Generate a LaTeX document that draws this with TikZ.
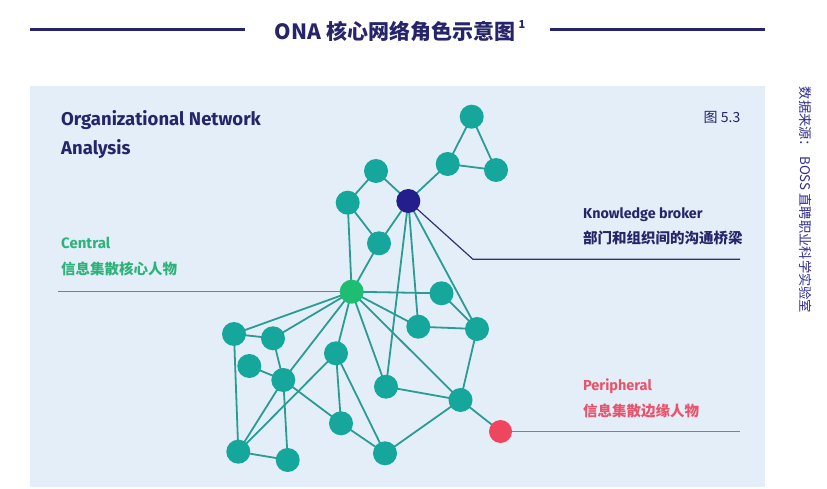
\documentclass[tikz,border=0pt]{standalone}
\usepackage{fontspec}
\setmainfont{Fira Sans}
\newfontfamily\cjk{Noto Sans CJK SC}
\definecolor{navy}{HTML}{26246A}
\definecolor{panel}{HTML}{E3EEF8}
\definecolor{teal}{HTML}{16A79C}
\definecolor{edgec}{HTML}{2A9C94}
\definecolor{cgreen}{HTML}{1EBE72}
\definecolor{ctext}{HTML}{2DB37A}
\definecolor{cline}{HTML}{22B078}
\definecolor{broker}{HTML}{241E8C}
\definecolor{pred}{HTML}{F0455F}
\definecolor{ptext}{HTML}{E8546B}
\definecolor{srcblue}{HTML}{2E2C8E}
\pgfdeclarelayer{bg}
\pgfsetlayers{bg,main}
\tikzset{
  nd/.style={circle,fill=teal,minimum size=24pt,inner sep=0pt},
  ed/.style={draw=edgec,line width=1.8pt},
  lbl/.style={anchor=base west,inner sep=0pt},
}
\begin{document}
\begin{tikzpicture}[x=1pt,y=-1pt]
\useasboundingbox (0,0) rectangle (827,489);
% title
\coordinate (tl1) at (30,29.5);
\coordinate (tl2) at (245,29.5);
\coordinate (tr1) at (550,29.5);
\coordinate (tr2) at (765,29.5);
\draw[navy,line width=2.6pt] (tl1) -- (tl2);
\draw[navy,line width=2.6pt] (tr1) -- (tr2);
\node[text=navy,inner sep=0pt] (title) at (400,31) {\cjk\bfseries\fontsize{21}{25}\selectfont ONA 核心网络角色示意图\,\raisebox{0.9ex}{\fontsize{11}{12}\selectfont 1}};
% heading
\node[lbl,text=navy] (h1) at (61,126) {\bfseries\fontsize{18.5}{22}\selectfont Organizational Network};
\node[lbl,text=navy] (h2) at (61,154.3) {\bfseries\fontsize{18.5}{22}\selectfont Analysis};
\node[text=navy,inner sep=0pt] (fig) at (722,117) {\cjk\fontsize{14}{16}\selectfont 图 5.3};
% source
\node[text=srcblue,inner sep=0pt,rotate=-90] (src) at (806,200) {\cjk\fontsize{13.3}{15}\selectfont 数据来源：\ BOSS 直聘职业科学实验室};
% nodes
\node[nd] (tt) at (471.7,116.7) {};
\node[nd] (tl) at (447.7,164) {};
\node[nd] (tr) at (496,170) {};
\node[nd] (a) at (376,171) {};
\node[nd] (b) at (347.7,202.7) {};
\node[nd,fill=broker] (br) at (408.3,201) {};
\node[nd] (c) at (379,243.3) {};
\node[nd,fill=cgreen] (cen) at (351.7,291.7) {};
\node[nd] (d) at (441.5,293.3) {};
\node[nd] (e) at (418.3,326.7) {};
\node[nd] (f) at (477,329) {};
\node[nd] (g) at (234,334) {};
\node[nd] (h) at (273,338.3) {};
\node[nd] (i) at (249.3,366) {};
\node[nd] (j) at (283.3,380) {};
\node[nd] (k) at (336,353.3) {};
\node[nd] (l) at (386,386.7) {};
\node[nd] (m) at (460.5,400) {};
\node[nd] (n) at (341,423.3) {};
\node[nd] (o) at (385,453.3) {};
\node[nd] (p) at (238.3,451.7) {};
\node[nd] (q) at (287.7,460) {};
\node[nd,fill=pred,minimum size=23pt] (per) at (500.5,431.5) {};
% leader coordinates
\coordinate (cl) at (58,291.7);
\coordinate (bk) at (473,259.3);
\coordinate (be) at (740,259.3);
\coordinate (pe) at (740,431.5);
\begin{pgfonlayer}{bg}
\fill[white] (0,0) rectangle (827,489);
\fill[panel] (30,86) rectangle (765,487);
\draw[cline,line width=1.3pt] (cl) -- (cen.center);
\draw[navy!85!gray,line width=1.2pt] (br.center) -- (bk) -- (be);
\draw[ptext,line width=1.2pt] (per.center) -- (pe);
\foreach \u/\v in {tt/tl,tt/tr,tl/tr,tl/br,a/br,a/b,b/c,c/br,b/cen,c/cen,
  br/l,br/e,br/f,
  cen/d,cen/g,cen/h,cen/j,cen/k,cen/l,cen/e,cen/m,
  d/f,e/f,f/m,l/m,m/per,m/o,
  g/h,g/p,h/j,j/q,i/j,j/n,j/p,k/p,k/n,k/o,n/o,p/q}
  \draw[ed] (\u.center) -- (\v.center);
\end{pgfonlayer}
% labels
\node[lbl,text=ctext] (ct1) at (61,248.3) {\bfseries\fontsize{15}{17}\selectfont Central};
\node[lbl,text=ctext] (ct2) at (61,274) {\cjk\bfseries\fontsize{14.5}{16}\selectfont 信息集散核心人物};
\node[lbl,text=navy] (kb1) at (583,218.3) {\bfseries\fontsize{14.3}{16}\selectfont Knowledge broker};
\node[lbl,text=navy] (kb2) at (583,243.5) {\cjk\bfseries\fontsize{14.5}{17}\selectfont 部门和组织间的沟通桥梁};
\node[lbl,text=ptext] (pp1) at (583,390) {\bfseries\fontsize{14.5}{16}\selectfont Peripheral};
\node[lbl,text=ptext] (pp2) at (583,416) {\cjk\bfseries\fontsize{14.5}{16}\selectfont 信息集散边缘人物};
\end{tikzpicture}
\end{document}
